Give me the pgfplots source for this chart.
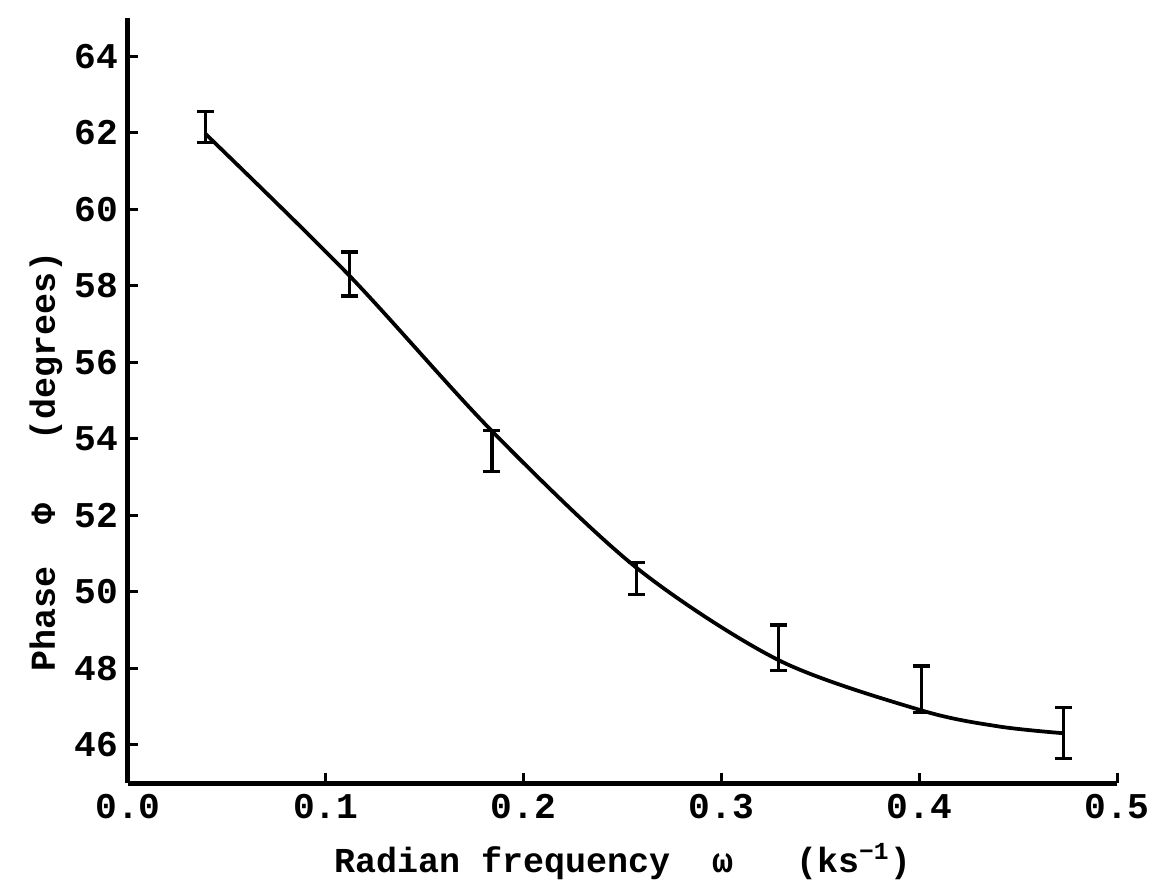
\documentclass[border=0pt]{standalone}
\usepackage{pgfplots}
\pgfplotsset{compat=1.18}
\usepackage{fontspec}
\setmainfont{Liberation Mono}
\usetikzlibrary{calc}
\begin{document}
\begin{tikzpicture}
\begin{axis}[name=ax,
  scale only axis, width=395.6pt, height=306pt,
  xmin=0, xmax=0.5, ymin=45, ymax=65,
  axis x line=bottom, axis y line=left,
  axis line style={-, line width=2pt},
  xtick={0,0.1,0.2,0.3,0.4,0.5},
  ytick={46,48,...,64},
  tick align=inside, major tick length=4pt,
  tick style={line width=1.2pt, black},
  xticklabel style={/pgf/number format/fixed, /pgf/number format/fixed zerofill, /pgf/number format/precision=1},
  /pgf/number format/assume math mode=true,
  ticklabel style={font=\bfseries\fontsize{14.5}{15}\selectfont},
  x tick label style={yshift=-1pt},
  y tick label style={xshift=-0.5pt},
  xlabel={Radian frequency \ ω \ \ (ks\textsuperscript{−1})},
  ylabel={Phase \ Φ \ \ (degrees)},
  label style={font=\bfseries\fontsize{14}{15}\selectfont},
  xlabel style={yshift=-3pt},
  ylabel style={at={(ticklabel cs:0.42)}, yshift=-2pt},
]
\addplot[black, line width=1.5pt, smooth, no marks] coordinates {
(0.039,61.98) (0.112,58.26) (0.184,54.20) (0.257,50.63) (0.329,48.21) (0.401,46.90) (0.44,46.48) (0.473,46.30)
};
\addplot[draw=none, no marks, error bars/.cd, y dir=both, y explicit,
  error bar style={line width=1.3pt, black}, error mark options={rotate=90, mark size=3.4pt, line width=1.3pt, black}]
coordinates {
(0.039,62.145) +- (0,0.405)
(0.112,58.305) +- (0,0.575)
(0.184,53.68) +- (0,0.54)
(0.257,50.34) +- (0,0.42)
(0.329,48.54) +- (0,0.59)
(0.401,47.455) +- (0,0.605)
(0.473,46.315) +- (0,0.665)
};
\end{axis}
\pgfresetboundingbox
\path ($(ax.south west)+(-51.2pt,-40.4pt)$) rectangle ($(ax.north east)+(14pt,7.2pt)$);
\end{tikzpicture}
\end{document}
